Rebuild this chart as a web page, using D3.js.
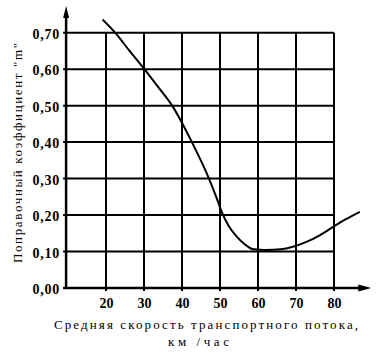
<!DOCTYPE html>
<html>
<head>
<meta charset="utf-8">
<script src="https://cdn.jsdelivr.net/npm/d3@7"></script>
<style>
  body { margin: 0; background: #fff; }
  svg { display: block; }
  text { font-family: "Liberation Serif", Tinos, "Noto Serif", FreeSerif, "Nimbus Roman", "Times New Roman", "DejaVu Serif", serif; fill: #000; }
  .tick text { font-weight: bold; font-size: 14px; }
  .title { font-size: 13px; }
</style>
</head>
<body>
<svg id="chart" width="381" height="353"></svg>
<script>
// data
const speedTicks = [20, 30, 40, 50, 60, 70, 80];
const coefTicks = [0.0, 0.1, 0.2, 0.3, 0.4, 0.5, 0.6, 0.7];
const coefLabels = ['0,00', '0,10', '0,20', '0,30', '0,40', '0,50', '0,60', '0,70'];
const speed = [19.1, 22.4, 26.2, 30.1, 33.8, 37.4, 42.6, 47.1, 49.0, 50.6, 52.3, 54.4, 56.5, 58.5, 62.0, 66.0, 69.2, 72.9, 76.0, 79.7, 83.0, 86.8];
const coef = [0.736, 0.70, 0.65, 0.60, 0.55, 0.50, 0.40, 0.30, 0.25, 0.205, 0.17, 0.141, 0.12, 0.107, 0.104, 0.106, 0.113, 0.127, 0.143, 0.167, 0.188, 0.209];
const xTitle = ['Средняя скорость транспортного потока,', 'км /час'];
const yTitle = 'Поправочный коэффициент "m"';

const svg = d3.select('#chart');

const x = d3.scaleLinear().domain([10, 80]).range([68, 334]);
const y = d3.scaleLinear().domain([0, 0.7]).range([288, 32.7]);
const xMin = 9.5, xMax = 89.3, yMax = 0.765;

// grid
svg.append('g').selectAll('line')
    .data(coefTicks.slice(1))
    .join('line')
    .attr('x1', x(xMin) - 3).attr('x2', x(80))
    .attr('y1', d => y(d)).attr('y2', d => y(d))
    .attr('stroke', '#000').attr('stroke-width', 2);

svg.append('g').selectAll('line')
    .data(speedTicks)
    .join('line')
    .attr('x1', d => x(d)).attr('x2', d => x(d))
    .attr('y1', y(0) + 3).attr('y2', y(0.7))
    .attr('stroke', '#000').attr('stroke-width', 2);

// axes with arrows
svg.append('line')
    .attr('x1', x(xMin)).attr('x2', x(xMin))
    .attr('y1', y(0) + 1).attr('y2', y(yMax) + 4)
    .attr('stroke', '#000').attr('stroke-width', 2.5);
svg.append('path')
    .attr('d', `M${x(xMin)},${y(yMax) - 3} l-3,12 l6,0 z`)
    .attr('fill', '#000');

svg.append('line')
    .attr('x1', x(xMin) - 3).attr('x2', x(xMax) - 4)
    .attr('y1', y(0)).attr('y2', y(0))
    .attr('stroke', '#000').attr('stroke-width', 2.5);
svg.append('path')
    .attr('d', `M${x(xMax) + 2},${y(0)} l-13,-3.5 l0,7 z`)
    .attr('fill', '#000');

// tick labels
svg.append('g')
    .attr('transform', `translate(${x(xMin) - 3},0)`)
    .call(d3.axisLeft(y).tickValues(coefTicks).tickSize(0).tickPadding(3)
        .tickFormat((d, i) => coefLabels[i]))
    .call(g => g.select('.domain').remove())
    .call(g => g.attr('font-family', null).attr('font-size', null))
    .selectAll('text').attr('letter-spacing', 0.8).attr('dy', '0.4em');

svg.append('g')
    .attr('transform', `translate(0,${y(0)})`)
    .call(d3.axisBottom(x).tickValues(speedTicks).tickSize(0).tickPadding(10)
        .tickFormat(d3.format('d')))
    .call(g => g.select('.domain').remove())
    .call(g => g.attr('font-family', null).attr('font-size', null));

// curve
svg.append('path')
    .datum(speed.map((s, i) => [s, coef[i]]))
    .attr('fill', 'none')
    .attr('stroke', '#000')
    .attr('stroke-width', 2)
    .attr('d', d3.line().x(d => x(d[0])).y(d => y(d[1])).curve(d3.curveMonotoneX));

// titles
svg.append('text').attr('class', 'title')
    .attr('x', 54).attr('y', 329)
    .attr('textLength', 304).attr('lengthAdjust', 'spacing')
    .text(xTitle[0]);
svg.append('text').attr('class', 'title')
    .attr('x', 168).attr('y', 346)
    .attr('textLength', 61).attr('lengthAdjust', 'spacing')
    .text(xTitle[1]);

svg.append('text').attr('class', 'title')
    .attr('transform', 'translate(22,263) rotate(-90)')
    .attr('textLength', 220).attr('lengthAdjust', 'spacing')
    .text(yTitle);
</script>
</body>
</html>
